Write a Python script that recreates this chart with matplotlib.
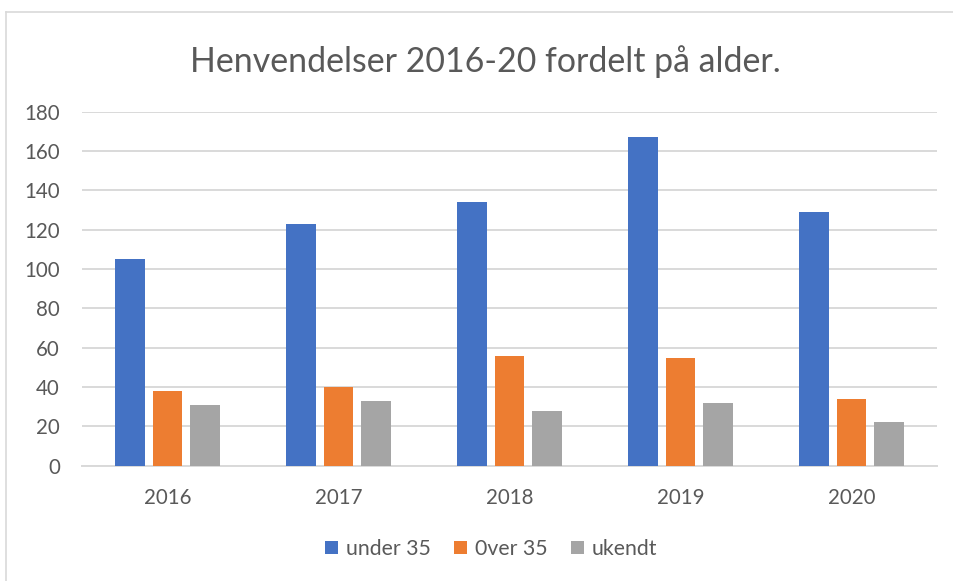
import numpy as np
import matplotlib.pyplot as plt
from matplotlib.lines import Line2D
from matplotlib.patches import Patch

plt.rcParams['font.family'] = ['Lato', 'DejaVu Sans']

years = ["2016", "2017", "2018", "2019", "2020"]
under_35 = [105, 123, 134, 167, 129]
over_35 = [38, 40, 56, 55, 34]
ukendt = [31, 33, 28, 32, 22]

series_names = ["under 35", "0ver 35", "ukendt"]
colors = ["#4472C4", "#ED7D31", "#A5A5A5"]
text_col = "#595959"

fig = plt.figure(figsize=(9.54, 5.81), dpi=100)
ax = fig.add_axes([82/954, 1 - 465.7/581, 855/954, 354/581])

x = np.arange(len(years))
width = 0.175
step = 0.222
for i, (vals, col) in enumerate(zip([under_35, over_35, ukendt], colors)):
    ax.bar(x + (i - 1) * step, vals, width, color=col, zorder=3)

ax.set_xlim(-0.5, len(years) - 0.5)
ax.set_ylim(0, 180)
ax.set_yticks(range(0, 181, 20))
ax.set_xticks(x)
ax.set_xticklabels(years)
ax.yaxis.grid(True, color="#d9d9d9", linewidth=1.4, zorder=0)
for s in ["top", "right", "left"]:
    ax.spines[s].set_visible(False)
ax.spines["bottom"].set_color("#d9d9d9")
ax.spines["bottom"].set_linewidth(1.4)
ax.tick_params(axis="both", length=0, labelsize=14.8, labelcolor=text_col)
ax.tick_params(axis="y", pad=16)
ax.tick_params(axis="x", pad=16)

fig.text(485/954, 1 - 62/581, "Henvendelser 2016-20 fordelt på alder.",
         ha="center", va="center", fontsize=24.4, color=text_col)

handles = [Patch(facecolor=c, edgecolor="none") for c in colors]
fig.legend(handles, series_names, loc="center", bbox_to_anchor=(491/954, 1 - 549/581),
           ncol=3, frameon=False, fontsize=15.3, labelcolor=text_col,
           handlelength=0.62, handleheight=0.62, handletextpad=0.35,
           columnspacing=1.1)

# outer chart border (left and top edges visible)
fig.add_artist(Line2D([6.5/954, 6.5/954], [0, 1 - 12/581], color="#d9d9d9", lw=1.2))
fig.add_artist(Line2D([6.5/954, 1], [1 - 12/581, 1 - 12/581], color="#d9d9d9", lw=1.2))

plt.savefig("out.png", dpi=100)
plt.close()
